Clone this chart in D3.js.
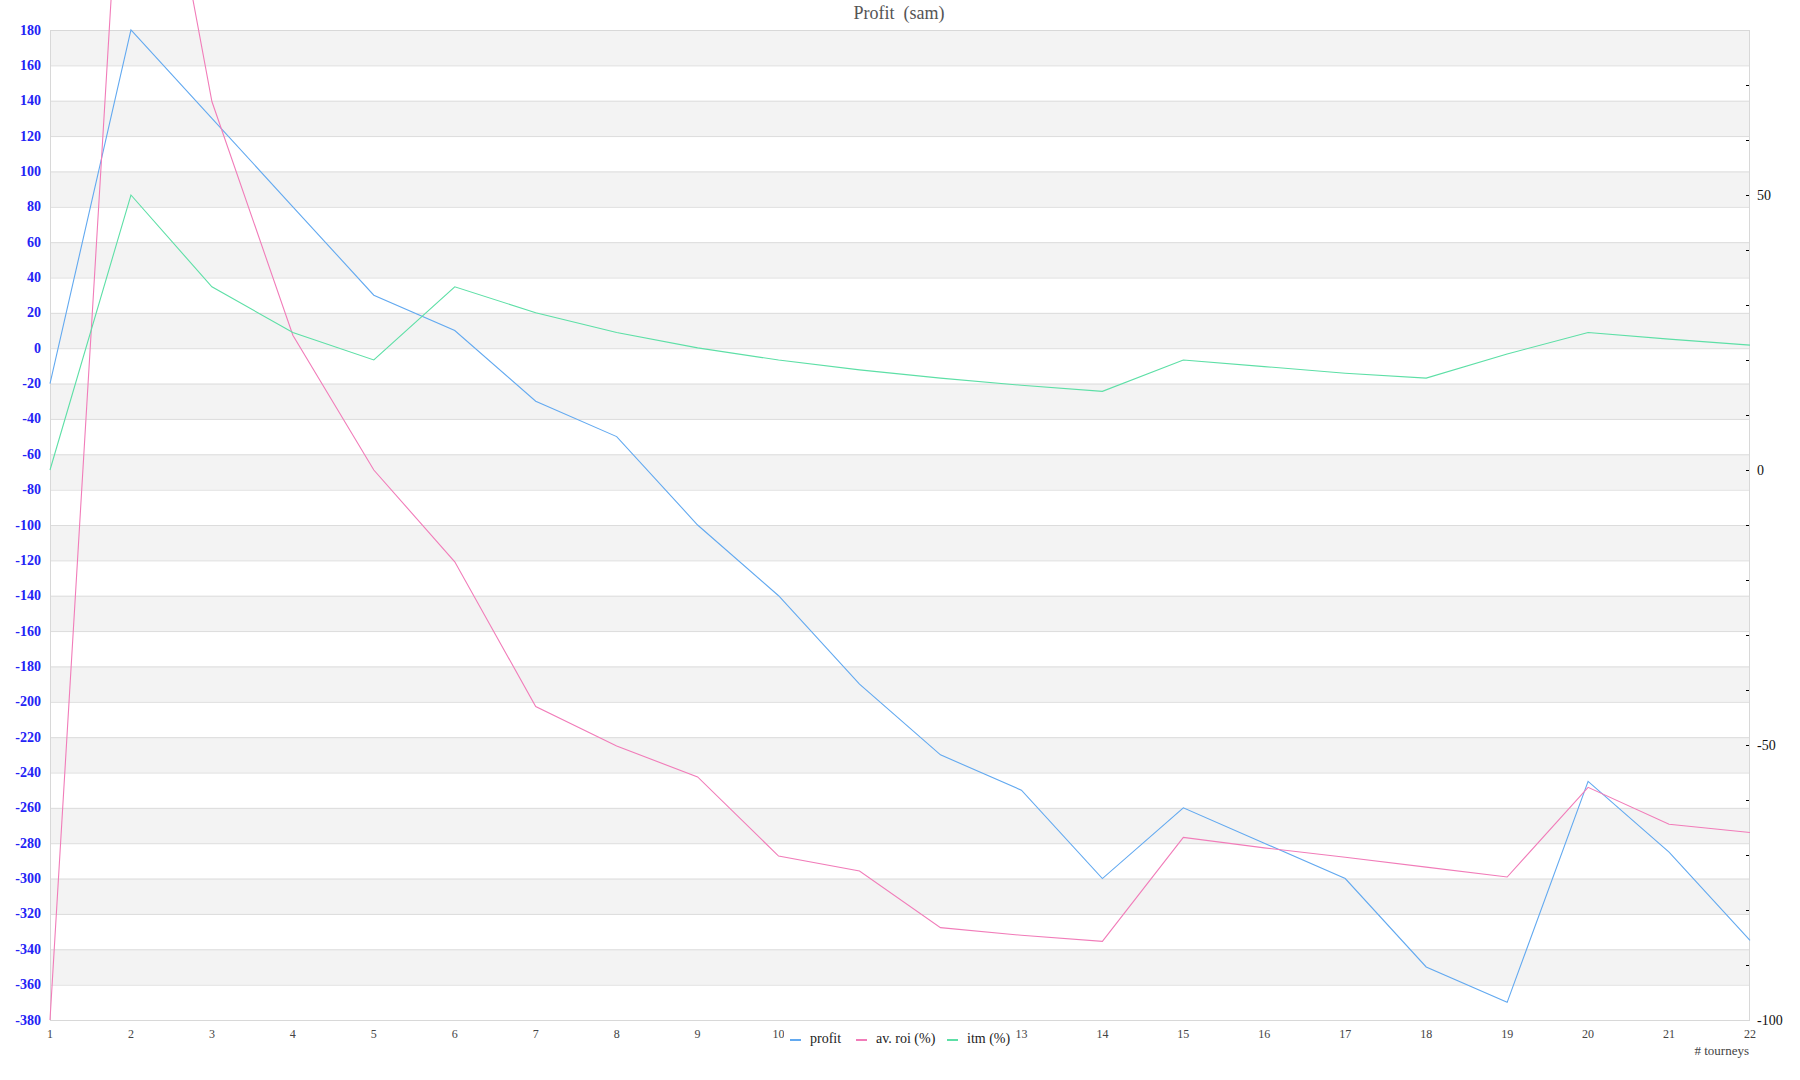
<!DOCTYPE html>
<html>
<head>
<meta charset="utf-8">
<script src="https://cdn.jsdelivr.net/npm/d3@7"></script>
<style>
  html, body { margin: 0; padding: 0; background: #fff; }
  svg { display: block; }
</style>
</head>
<body>
<svg id="chart" width="1800" height="1080"></svg>
<script>
// ---- data ----
const tourneys = [1,2,3,4,5,6,7,8,9,10,11,12,13,14,15,16,17,18,19,20,21,22];
const profit = [-20,180,130,80,30,10,-30,-50,-100,-140,-190,-230,-250,-300,-260,-280,-300,-350,-370,-245,-285,-335];
const avRoi = [-100,146,67,24.5,0,-16.7,-43,-50.2,-55.8,-70.2,-72.9,-83.2,-84.6,-85.7,-66.8,-68.7,-70.4,-72.2,-74.0,-57.7,-64.4,-65.9];
const itm = [0,50,33.3,25,20,33.3,28.6,25,22.2,20,18.2,16.7,15.4,14.3,20,18.8,17.6,16.7,21.1,25,23.8,22.7];
const leftTicks = d3.range(-380, 181, 20);
const rightMinorTicks = [-90,-80,-70,-60,-50,-40,-30,-20,-10,0,10,20,30,40,50,60,70];
const rightLabels = [-100,-50,0,50];
const seriesNames = ["profit", "av. roi (%)", "itm (%)"];
const seriesColors = ["#62a9f0", "#f17cb9", "#5ddfa6"];
const chartTitle = "Profit  (sam)";
const xTitle = "# tourneys";

// ---- layout ----
const L = 50, R = 1750, T = 30, B = 1020;
const svg = d3.select("#chart");
const x = d3.scaleLinear().domain([1, 22]).range([L, R]);
const yL = d3.scaleLinear().domain([-380, 180]).range([B, T]);
const yR = d3.scaleLinear().domain([-100, 80]).range([B, T]);

// bands
const bands = [];
for (let i = 0; i < leftTicks.length - 1; i++) {
  const hi = leftTicks[leftTicks.length - 1 - i], lo = leftTicks[leftTicks.length - 2 - i];
  bands.push({hi, lo, gray: i % 2 === 0});
}
svg.append("g").selectAll("rect").data(bands).join("rect")
  .attr("x", L).attr("width", R - L)
  .attr("y", d => yL(d.hi)).attr("height", d => yL(d.lo) - yL(d.hi))
  .attr("fill", d => d.gray ? "#f3f3f3" : "#ffffff");

// grid lines
svg.append("g").selectAll("line").data(leftTicks).join("line")
  .attr("x1", L).attr("x2", R)
  .attr("y1", d => yL(d) + 0.5).attr("y2", d => yL(d) + 0.5)
  .attr("stroke", "#dcdcdc").attr("stroke-width", 1);

// frame
svg.append("rect").attr("x", L + 0.5).attr("y", T + 0.5)
  .attr("width", R - L - 1).attr("height", B - T)
  .attr("fill", "none").attr("stroke", "#d8d8d8");

// left axis labels
svg.append("g").selectAll("text").data(leftTicks).join("text")
  .attr("x", 41).attr("y", d => yL(d))
  .attr("text-anchor", "end").attr("dominant-baseline", "central")
  .attr("font-family", "'Liberation Serif', serif").attr("font-size", 14)
  .attr("font-weight", "bold").attr("fill", "#2323f5")
  .text(d => d);

// right axis ticks
svg.append("g").selectAll("line").data(rightMinorTicks).join("line")
  .attr("x1", R - 4).attr("x2", R - 1)
  .attr("y1", d => yR(d) + 0.5).attr("y2", d => yR(d) + 0.5)
  .attr("stroke", "#000").attr("stroke-width", 1);
svg.append("g").selectAll("text").data(rightLabels).join("text")
  .attr("x", 1757).attr("y", d => yR(d))
  .attr("dominant-baseline", "central")
  .attr("font-family", "'Liberation Serif', serif").attr("font-size", 14)
  .attr("fill", "#111")
  .text(d => d);

// x axis labels
svg.append("g").selectAll("text").data(tourneys).join("text")
  .attr("x", d => x(d)).attr("y", 1034)
  .attr("text-anchor", "middle").attr("dominant-baseline", "central")
  .attr("font-family", "'Liberation Serif', serif").attr("font-size", 12)
  .attr("fill", "#444")
  .text(d => d);

// lines
const lineL = d3.line().x((d, i) => x(tourneys[i])).y(d => yL(d));
const lineR = d3.line().x((d, i) => x(tourneys[i])).y(d => yR(d));
svg.append("path").datum(profit).attr("d", lineL)
  .attr("fill", "none").attr("stroke", seriesColors[0]).attr("stroke-width", 1.1);
svg.append("path").datum(avRoi).attr("d", lineR)
  .attr("fill", "none").attr("stroke", seriesColors[1]).attr("stroke-width", 1.1);
svg.append("path").datum(itm).attr("d", lineR)
  .attr("fill", "none").attr("stroke", seriesColors[2]).attr("stroke-width", 1.1);

// title
svg.append("text").attr("x", 899).attr("y", 13)
  .attr("text-anchor", "middle").attr("dominant-baseline", "central")
  .attr("font-family", "'Liberation Serif', serif").attr("font-size", 18)
  .attr("fill", "#555").attr("xml:space", "preserve").style("white-space", "pre")
  .text(chartTitle);

// x title
svg.append("text").attr("x", 1749).attr("y", 1050)
  .attr("text-anchor", "end").attr("dominant-baseline", "central")
  .attr("font-family", "'Liberation Serif', serif").attr("font-size", 13)
  .attr("fill", "#444")
  .text(xTitle);

// legend
svg.append("rect").attr("x", 784).attr("y", 1024).attr("width", 232).attr("height", 26).attr("fill", "#fff");
const legendX = [790, 856, 947];
const lg = svg.append("g").selectAll("g").data(seriesNames).join("g");
lg.append("rect")
  .attr("x", (d, i) => legendX[i]).attr("y", 1039)
  .attr("width", 11).attr("height", 2)
  .attr("fill", (d, i) => seriesColors[i]);
lg.append("text")
  .attr("x", (d, i) => legendX[i] + 20).attr("y", 1038)
  .attr("dominant-baseline", "central")
  .attr("font-family", "'Liberation Serif', serif").attr("font-size", 14)
  .attr("fill", "#222")
  .text(d => d);
</script>
</body>
</html>
